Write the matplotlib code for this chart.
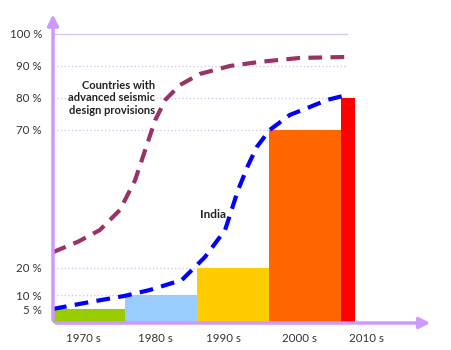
import numpy as np
import matplotlib
matplotlib.use('Agg')
import matplotlib.pyplot as plt
from matplotlib.scale import FuncScale

# bars per decade
decades = ['1970 s', '1980 s', '1990 s', '2000 s', '2010 s']
bar_left = [0, 1, 2, 3, 4]
bar_width = [1, 1, 1, 1, 0.19]
bar_share = [5, 10, 20, 70, 80]
bar_colors = ['#99cc00', '#99ccff', '#ffcc00', '#ff6600', '#ff0000']

# curve (x in decades from 1970)
adv_x = [0.0, 0.35, 0.65, 0.93, 1.14, 1.28, 1.42, 1.56, 1.76, 2.04, 2.46, 2.88, 3.43, 4.08]
adv_y = [25.7, 29.5, 33.7, 41.0, 51.8, 62.7, 73.1, 79.4, 84.0, 87.5, 90.0, 91.3, 92.5, 92.8]
india_x = [0.0, 0.51, 0.99, 1.35, 1.79, 2.11, 2.39, 2.57, 2.71, 2.83, 3.01, 3.29, 3.57, 3.81, 4.08]
india_y = [5.1, 7.6, 9.8, 12.0, 15.6, 23.9, 33.7, 48.2, 57.2, 63.8, 70.0, 74.7, 77.2, 79.4, 80.9]

ytick_vals = [5, 10, 20, 70, 80, 90, 100]
grid_vals = [5, 10, 20, 70, 80, 90, 100]
label_pos = [0.42, 1.42, 2.37, 3.43, 4.36]

# the drawn axis is stretched above 70 %
seg_v = [-20, 0, 70, 115]
seg_d = [-55.2, 0, 193, 337]
def fwd(v):
    return np.interp(v, seg_v, seg_d)
def inv(d):
    return np.interp(d, seg_d, seg_v)

plt.rcParams['font.family'] = ['Lato', 'DejaVu Sans']

fig = plt.figure(figsize=(4.51, 3.5), dpi=100)
ax = fig.add_axes([53 / 451, 27 / 350, 398 / 451, 323 / 350])
ax.set_yscale(FuncScale(ax.yaxis, (fwd, inv)))
ax.set_xlim(0, 398 / 72)
ax.set_ylim(0, 110.6)

for s in ax.spines.values():
    s.set_visible(False)

axis_col = '#cc99ff'
grid_col = '#d5c6f2'
for g in grid_vals:
    ls = '-' if g == 100 else ':'
    ax.plot([0, 4.08], [g, g], color=grid_col, lw=1, ls=ls, zorder=1)

ax.bar(bar_left, bar_share, width=bar_width, align='edge', color=bar_colors, zorder=2)

ax.plot(adv_x, adv_y, color='#993366', lw=3, dashes=(3.3, 2), zorder=3, clip_on=False)
ax.plot(india_x, india_y, color='#0000ff', lw=3, dashes=(3.3, 2), zorder=3, clip_on=False)

# axes with arrow heads
ax.annotate('', xy=(0, 107), xytext=(0, 0),
            arrowprops=dict(arrowstyle='-|>', color=axis_col, lw=2.5, mutation_scale=16),
            annotation_clip=False, zorder=4)
ax.annotate('', xy=(5.28, 0), xytext=(0, 0),
            arrowprops=dict(arrowstyle='-|>', color=axis_col, lw=2.5, mutation_scale=16),
            annotation_clip=False, zorder=4)

ax.set_yticks(ytick_vals)
ax.set_yticklabels([f'{v} %' for v in ytick_vals])
ax.set_xticks(label_pos)
ax.set_xticklabels(decades)
ax.tick_params(axis='y', length=0, pad=8, labelsize=8.3, labelcolor='#333333')
ax.tick_params(axis='x', length=0, pad=7, labelsize=8.3, labelcolor='#333333')

ax.text(1.42, 80, 'Countries with\nadvanced seismic\ndesign provisions',
        ha='right', va='center', fontsize=8, fontweight='bold', color='#222222',
        linespacing=1.2, zorder=2,
        bbox=dict(facecolor='white', edgecolor='none', pad=1))
ax.text(2.22, 39.5, 'India', ha='center', va='center', fontsize=8.5,
        fontweight='bold', color='#222222', zorder=5)

fig.savefig('out.png', dpi=100)
